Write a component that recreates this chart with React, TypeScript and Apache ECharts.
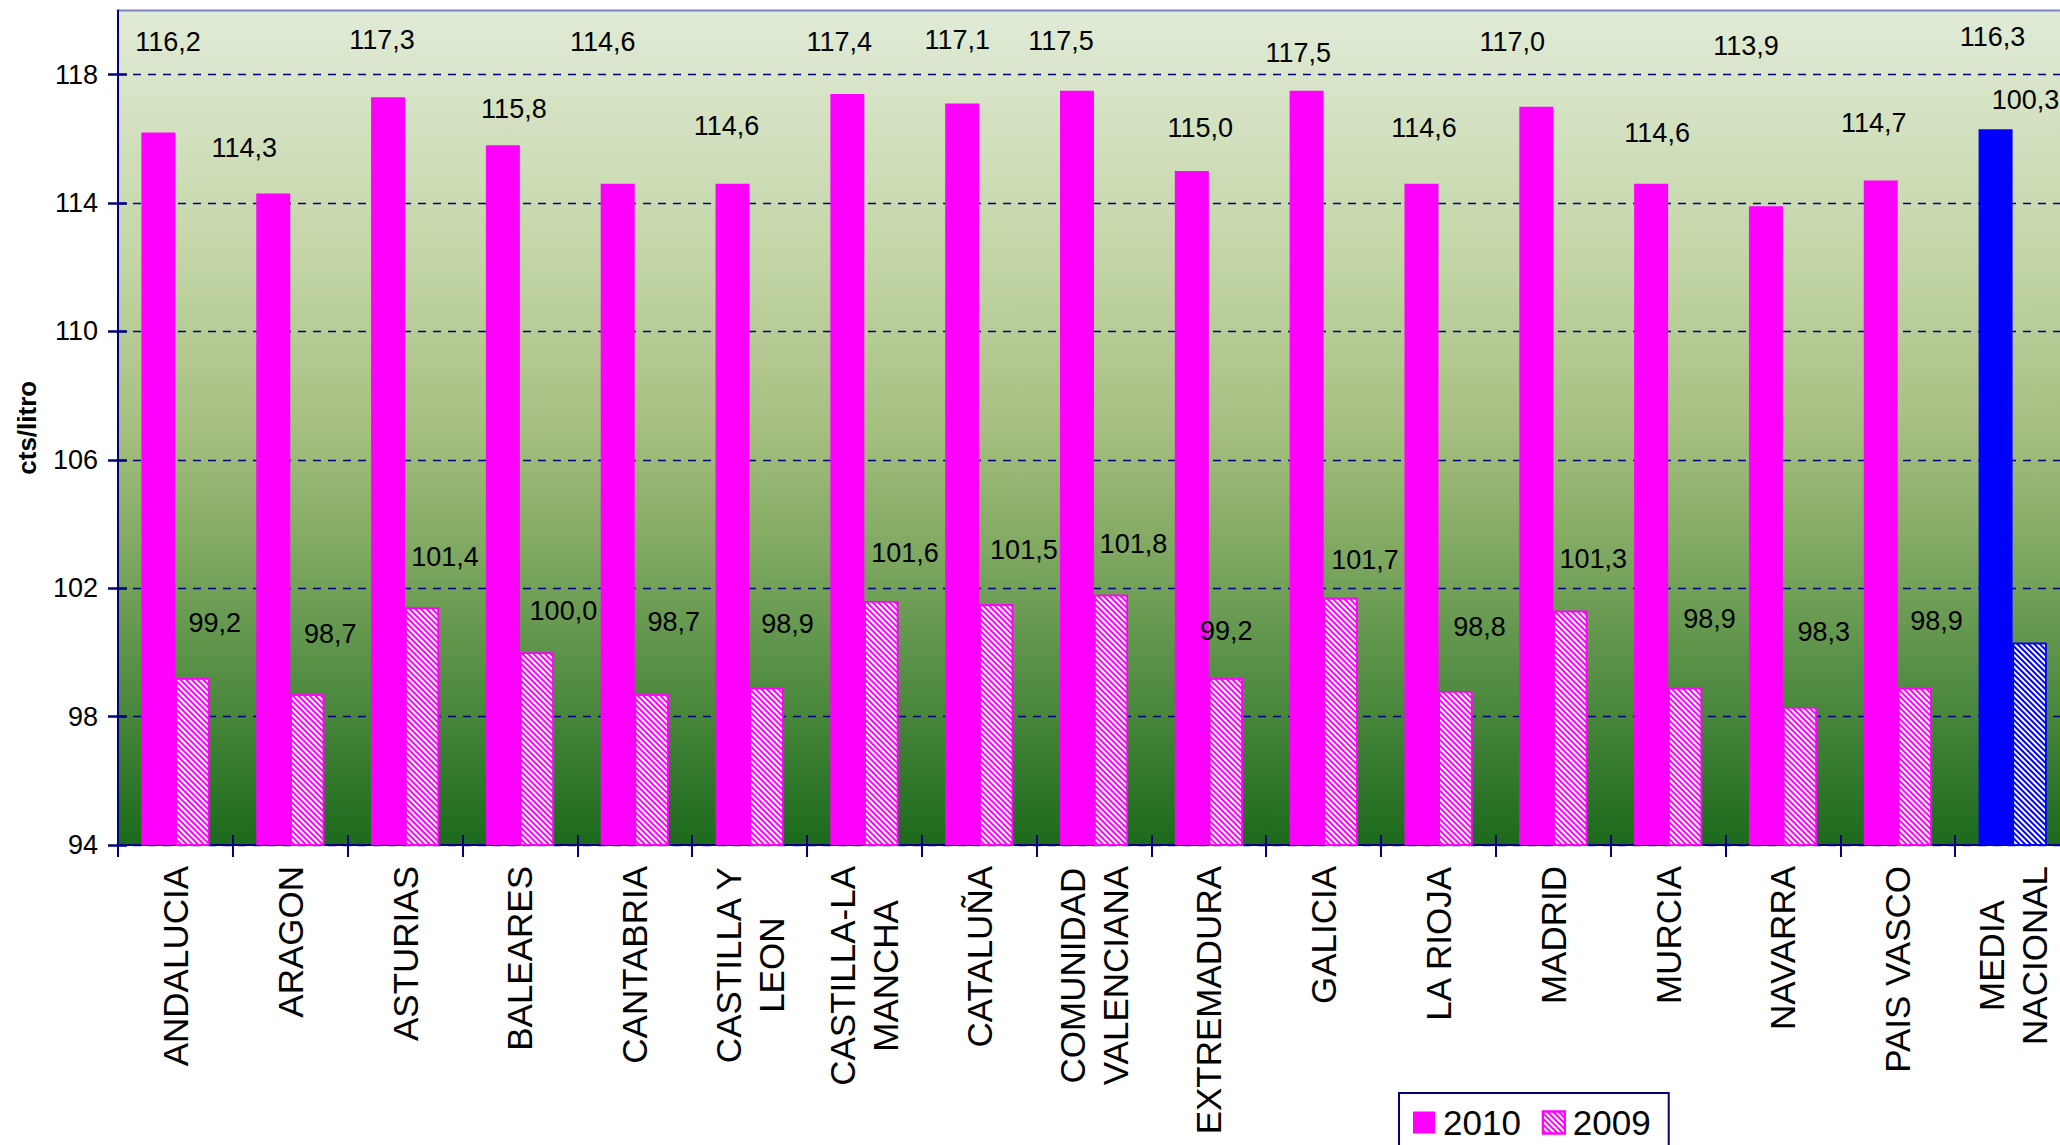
import React, { useEffect, useRef } from 'react';
import * as echarts from 'echarts';

const categories = [
  'ANDALUCIA', 'ARAGON', 'ASTURIAS', 'BALEARES', 'CANTABRIA', 'CASTILLA Y\nLEON',
  'CASTILLA-LA\nMANCHA', 'CATALUÑA', 'COMUNIDAD\nVALENCIANA', 'EXTREMADURA', 'GALICIA',
  'LA RIOJA', 'MADRID', 'MURCIA', 'NAVARRA', 'PAIS VASCO', 'MEDIA\nNACIONAL',
];
const values2010 = [116.2, 114.3, 117.3, 115.8, 114.6, 114.6, 117.4, 117.1, 117.5, 115.0, 117.5, 114.6, 117.0, 114.6, 113.9, 114.7, 116.3];
const values2009 = [99.2, 98.7, 101.4, 100.0, 98.7, 98.9, 101.6, 101.5, 101.8, 99.2, 101.7, 98.8, 101.3, 98.9, 98.3, 98.9, 100.3];
const seriesNames = ['2010', '2009'];
const yTicks = [94, 98, 102, 106, 110, 114, 118];
const yMin = 94;
const yMax = 120;
const yAxisName = 'cts/litro';
const averageCategory = 'MEDIA\nNACIONAL';

// label placement (pixel offsets from the top-centre of each bar)
const labelOffsets2010 = [
  [9.5, -90], [-29, -45], [-6, -57], [11, -36.5], [-15, -142], [-6, -58], [-8, -52.4], [-5, -64],
  [-16, -49.5], [8.5, -42.6], [-8.4, -38.2], [2.5, -56], [-24, -65], [6, -50.4], [-20, -160.4], [-7, -58], [-3, -92.5],
];
const labelOffsets2009 = [
  [22.4, -55.6], [23, -60.4], [23, -50], [26.5, -41], [22, -72.4], [21, -64], [23.6, -48.5], [27.7, -54.5],
  [22.4, -50.4], [0.5, -47.3], [24.3, -37.8], [24, -64], [23, -51.5], [24.4, -69], [23.8, -75.3], [21.7, -67], [-4, -543],
];

const FONT = '"Liberation Sans", Arial, sans-serif';
const MAGENTA = '#ff00ff';
const BLUE = '#0000ff';
const NAVY = '#000080';

const fmt = (v: number) => v.toFixed(1).replace('.', ',');

const hatch = (color: string) => ({
  symbol: 'rect',
  symbolSize: 1,
  color,
  dashArrayX: [1, 0],
  dashArrayY: [1.5, 1.8],
  rotation: Math.PI / 4,
});

export default function App() {
  const ref = useRef<HTMLDivElement>(null);

  useEffect(() => {
    const el = ref.current;
    if (!el) return;
    const chart = echarts.init(el, null, { renderer: 'svg' });

    const avgIdx = categories.indexOf(averageCategory);

    const data2010 = values2010.map((v, i) => ({
      value: v,
      itemStyle: i === avgIdx ? { color: BLUE } : undefined,
      label: { offset: labelOffsets2010[i] },
    }));
    const data2009 = values2009.map((v, i) => ({
      value: v,
      itemStyle: i === avgIdx ? { borderColor: BLUE, decal: hatch(BLUE) } : undefined,
      label: { offset: labelOffsets2009[i] },
    }));

    const barLabel = {
      show: true,
      position: 'top',
      distance: 0,
      align: 'center',
      verticalAlign: 'middle',
      fontSize: 27,
      fontFamily: FONT,
      color: '#000',
      formatter: (p: any) => fmt(p.value),
    };

    const tickLine = { color: NAVY, width: 2 };

    const option: any = {
      animation: false,
      backgroundColor: '#ffffff',
      textStyle: { fontFamily: FONT },
      grid: {
        left: 118,
        top: 10.5,
        right: -10,
        bottom: 300,
        show: true,
        borderColor: '#8080c0',
        borderWidth: 2,
        backgroundColor: new echarts.graphic.LinearGradient(0, 0, 0, 1, [
          { offset: 0, color: '#e0ebd6' },
          { offset: 0.3, color: '#c3d5a6' },
          { offset: 0.5, color: '#a6bf80' },
          { offset: 0.65, color: '#7fa860' },
          { offset: 0.82, color: '#4e8a40' },
          { offset: 1, color: '#1c6a1c' },
        ]),
        containLabel: false,
        outerBoundsMode: 'none',
      },
      legend: {
        data: seriesNames,
        left: 1399,
        top: 1093,
        orient: 'horizontal',
        icon: 'rect',
        itemWidth: 22,
        itemHeight: 22,
        itemGap: 21,
        padding: [12, 18, 40, 14],
        borderColor: NAVY,
        borderWidth: 2,
        backgroundColor: '#ffffff',
        textStyle: { fontSize: 35, fontFamily: FONT, color: '#000', padding: [0, 0, 0, 3] },
      },
      xAxis: [
        {
          type: 'category',
          data: categories,
          position: 'bottom',
          boundaryGap: true,
          axisLine: { show: true, lineStyle: { color: NAVY, width: 2 } },
          axisTick: { show: true, interval: 0, length: 12, lineStyle: tickLine },
          axisLabel: {
            interval: 0,
            rotate: 90,
            margin: 21,
            color: '#000',
            fontSize: 35,
            fontFamily: FONT,
            formatter: (v: string) => v.split('\n').map((l) => `{c|${l}}`).join('\n'),
            rich: {
              c: { fontSize: 35, fontFamily: FONT, color: '#000', align: 'center', lineHeight: 43 },
            },
          },
          splitLine: { show: false },
        },
        {
          type: 'category',
          data: categories,
          position: 'bottom',
          boundaryGap: true,
          axisLine: { show: false },
          axisTick: { show: true, inside: true, interval: 0, length: 10, lineStyle: tickLine },
          axisLabel: { show: false },
          splitLine: { show: false },
        },
      ],
      yAxis: [
        {
          type: 'value',
          min: yMin,
          max: yMax,
          position: 'left',
          name: yAxisName,
          nameLocation: 'middle',
          nameRotate: 90,
          nameGap: 78,
          nameTextStyle: { fontSize: 26, fontWeight: 'bold', fontFamily: FONT, color: '#000' },
          axisLine: { show: true, lineStyle: { color: NAVY, width: 2 } },
          axisTick: { show: true, length: 10, customValues: yTicks, lineStyle: { color: NAVY, width: 2.5 } },
          axisLabel: {
            customValues: yTicks,
            margin: 20,
            fontSize: 27,
            fontFamily: FONT,
            color: '#000',
          },
          splitLine: { show: true, lineStyle: { color: NAVY, width: 1.3, type: [8, 7] } },
        },
        {
          type: 'value',
          min: yMin,
          max: yMax,
          position: 'left',
          axisLine: { show: false },
          axisTick: { show: true, inside: true, length: 9, customValues: yTicks, lineStyle: { color: NAVY, width: 2.5 } },
          axisLabel: { show: false },
          splitLine: { show: false },
        },
      ],
      series: [
        {
          name: seriesNames[0],
          type: 'bar',
          barWidth: 34,
          barGap: '0%',
          itemStyle: { color: MAGENTA },
          label: barLabel,
          data: data2010,
        },
        {
          name: seriesNames[1],
          type: 'bar',
          barWidth: 34,
          barGap: '0%',
          itemStyle: { color: '#ffffff', borderColor: MAGENTA, borderWidth: 1.5, decal: hatch(MAGENTA) },
          label: barLabel,
          data: data2009,
        },
      ],
    };

    chart.setOption(option);
    return () => chart.dispose();
  }, []);

  return (
    <div
      ref={ref}
      style={{ position: 'fixed', left: 0, top: 0, width: 2060, height: 1145, background: '#fff' }}
    />
  );
}
